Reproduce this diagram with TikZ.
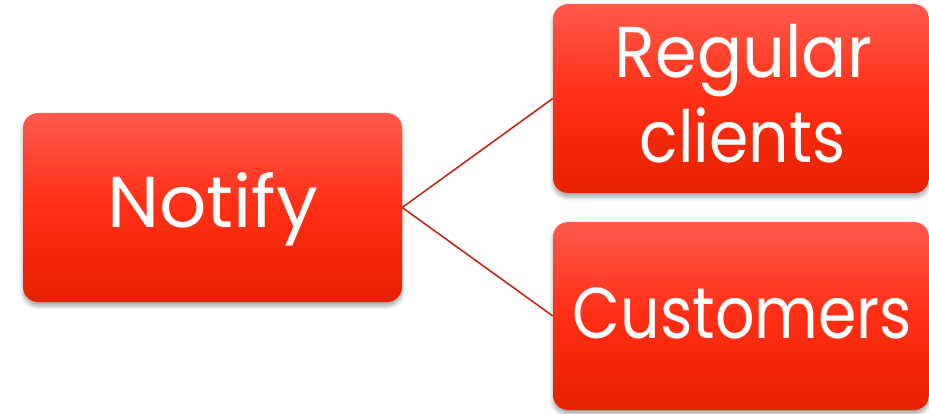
\documentclass[tikz,border=0pt]{standalone}
\usepackage{fontspec}
\setmainfont{Poppins}
\usetikzlibrary{shadows.blur}
\definecolor{boxtop}{HTML}{FF5A4C}
\definecolor{boxmid}{HTML}{FF2E14}
\definecolor{boxbot}{HTML}{E52200}
\definecolor{linkred}{HTML}{C0281C}
\tikzset{
  redbox/.style={rectangle, rounded corners=15pt, inner sep=0pt,
    top color=boxtop, bottom color=boxbot, middle color=boxmid,
    blur shadow={shadow xshift=0pt, shadow yshift=-4pt, shadow opacity=35, shadow blur steps=6, shadow blur radius=4pt}},
  lbl/.style={text=white, inner sep=0pt, anchor=base, font=\fontsize{72}{85}\selectfont},
  link/.style={draw=linkred, line width=1.6pt}
}
\begin{document}
\begin{tikzpicture}[x=1pt,y=-1pt]
\useasboundingbox (0,0) rectangle (929,414);
\node[redbox, minimum width=379pt, minimum height=189pt] (notify) at (212.5,207.5) {};
\node[redbox, minimum width=376pt, minimum height=189pt] (regular) at (741,98.5) {};
\node[redbox, minimum width=376pt, minimum height=188pt] (customers) at (741,316) {};
\node[lbl] (notifytxt) at (212.5,228) {\scalebox{1.03}[1]{Notify}};
\node[lbl] (regulartxt) at (743.5,78) {\scalebox{0.93}[1]{Regular}};
\node[lbl] (clientstxt) at (742.5,163) {\scalebox{0.88}[1]{clients}};
\node[lbl] (customerstxt) at (742.5,338) {\scalebox{0.86}[1]{Customers}};
\draw[link] (notify.east) -- (regular.west);
\draw[link] (notify.east) -- (customers.west);
\end{tikzpicture}
\end{document}
